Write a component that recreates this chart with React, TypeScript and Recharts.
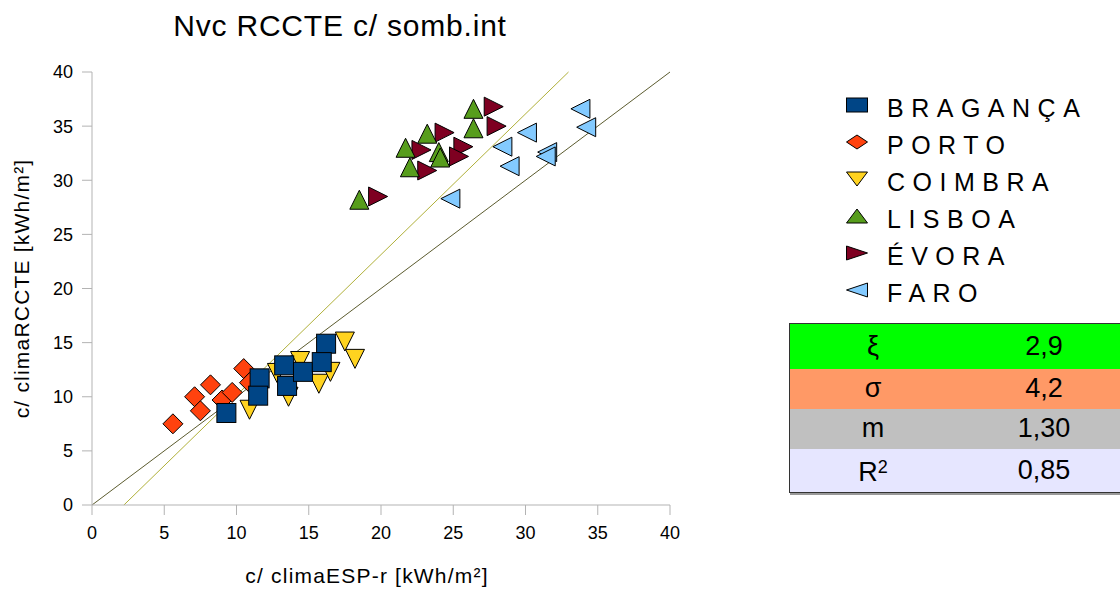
import React from "react";
import {
  ScatterChart,
  Scatter,
  XAxis,
  YAxis,
  ReferenceLine,
  Label,
} from "recharts";

// points (x = ESP-r, y = RCCTE, kWh/m²)
const braganca = [
  { x: 9.3, y: 8.5 }, { x: 11.6, y: 11.7 }, { x: 11.5, y: 10.1 }, { x: 13.3, y: 12.9 },
  { x: 13.5, y: 11.0 }, { x: 14.6, y: 12.3 }, { x: 16.2, y: 14.9 }, { x: 15.9, y: 13.2 },
];
const porto = [
  { x: 5.6, y: 7.5 }, { x: 7.1, y: 10.0 }, { x: 7.5, y: 8.7 }, { x: 8.2, y: 11.1 },
  { x: 9.0, y: 9.7 }, { x: 9.7, y: 10.4 }, { x: 10.5, y: 12.6 }, { x: 10.9, y: 11.3 },
];
const coimbra = [
  { x: 10.9, y: 8.8 }, { x: 13.6, y: 10.0 }, { x: 12.8, y: 12.2 }, { x: 14.4, y: 13.3 },
  { x: 15.7, y: 11.2 }, { x: 16.5, y: 12.3 }, { x: 17.5, y: 15.1 }, { x: 18.2, y: 13.5 },
];
const lisboa = [
  { x: 18.5, y: 28.2 }, { x: 21.7, y: 33.0 }, { x: 22.0, y: 31.2 }, { x: 23.2, y: 34.3 },
  { x: 24.0, y: 32.6 }, { x: 24.1, y: 32.1 }, { x: 26.4, y: 34.8 }, { x: 26.4, y: 36.6 },
];
const evora = [
  { x: 19.8, y: 28.5 }, { x: 22.8, y: 32.8 }, { x: 23.2, y: 30.9 }, { x: 24.4, y: 34.4 },
  { x: 25.7, y: 33.1 }, { x: 25.4, y: 32.2 }, { x: 27.8, y: 36.8 }, { x: 28.0, y: 35.0 },
];
const faro = [
  { x: 24.8, y: 28.3 }, { x: 28.4, y: 33.1 }, { x: 28.9, y: 31.3 }, { x: 30.1, y: 34.4 },
  { x: 31.5, y: 32.6 }, { x: 31.4, y: 32.2 }, { x: 33.8, y: 36.6 }, { x: 34.2, y: 34.9 },
];

const axisTicks = [0, 5, 10, 15, 20, 25, 30, 35, 40];

// regression line y = m*x + b
const fitSlope = 1.3;
const fitIntercept = -2.87;

const statLabels = ["ξ", "σ", "m", "R2"];
const statValues = ["2,9", "4,2", "1,30", "0,85"];

const series = [
  { name: "BRAGANÇA", data: braganca, kind: "square", fill: "#004586" },
  { name: "PORTO", data: porto, kind: "diamond", fill: "#ff420e" },
  { name: "COIMBRA", data: coimbra, kind: "down", fill: "#ffd320" },
  { name: "LISBOA", data: lisboa, kind: "up", fill: "#579d1c" },
  { name: "ÉVORA", data: evora, kind: "right", fill: "#7e0021" },
  { name: "FARO", data: faro, kind: "left", fill: "#83caff" },
];

const font = "'Liberation Sans', Arial, sans-serif";

function symbol(kind: string, cx: number, cy: number, w: number, h: number, fill: string) {
  const a = w / 2;
  const b = h / 2;
  let pts = "";
  if (kind === "square") {
    return <rect x={cx - a} y={cy - b} width={w} height={h} fill={fill} stroke="#000" strokeWidth={1} />;
  }
  if (kind === "diamond") pts = `${cx},${cy - b} ${cx + a},${cy} ${cx},${cy + b} ${cx - a},${cy}`;
  if (kind === "up") pts = `${cx},${cy - b} ${cx + a},${cy + b} ${cx - a},${cy + b}`;
  if (kind === "down") pts = `${cx - a},${cy - b} ${cx + a},${cy - b} ${cx},${cy + b}`;
  if (kind === "right") pts = `${cx - a},${cy - b} ${cx + a},${cy} ${cx - a},${cy + b}`;
  if (kind === "left") pts = `${cx + a},${cy - b} ${cx - a},${cy} ${cx + a},${cy + b}`;
  return <polygon points={pts} fill={fill} stroke="#000" strokeWidth={1} strokeLinejoin="miter" />;
}

const makeShape = (kind: string, fill: string) => (props: any) => {
  const { cx, cy } = props;
  if (cx == null || cy == null) return <g />;
  const s = kind === "diamond" ? 20 : 19;
  return symbol(kind, cx, cy, s, s, fill);
};

const tickStyle = { fontSize: 18, fill: "#000", fontFamily: font };
const axisLabelStyle = { fontSize: 21, fill: "#000", fontFamily: font, letterSpacing: 1.2 };

export default function App() {
  const fitStart = { x: -fitIntercept / fitSlope, y: 0 };
  const fitEnd = { x: (40 - fitIntercept) / fitSlope, y: 40 };
  const rowColors = ["#00ff00", "#ff9966", "#c0c0c0", "#e6e6ff"];
  const rowHeights = [45, 40, 40, 43];

  return (
    <div
      style={{
        position: "absolute",
        left: 0,
        top: 0,
        width: 1120,
        height: 592,
        overflow: "hidden",
        background: "#fff",
        fontFamily: font,
      }}
    >
      <div
        style={{
          position: "absolute",
          left: 90,
          width: 500,
          top: 11,
          textAlign: "center",
          fontSize: 30,
          lineHeight: "30px",
          letterSpacing: 0.8,
          color: "#000",
        }}
      >
        Nvc RCCTE c/ somb.int
      </div>

      <ScatterChart
        width={700}
        height={592}
        margin={{ top: 72, right: 30, bottom: 47, left: 0 }}
      >
        <XAxis
          type="number"
          dataKey="x"
          domain={[0, 40]}
          ticks={axisTicks}
          interval={0}
          allowDataOverflow
          height={40}
          stroke="#b3b3b3"
          tickSize={10}
          tickMargin={11}
          tick={tickStyle}
        >
          <Label
            value="c/ climaESP-r [kWh/m²]"
            position="bottom"
            offset={23}
            dx={-14}
            style={axisLabelStyle}
          />
        </XAxis>
        <YAxis
          type="number"
          dataKey="y"
          domain={[0, 40]}
          ticks={axisTicks}
          interval={0}
          allowDataOverflow
          width={92}
          stroke="#b3b3b3"
          tickSize={10}
          tickMargin={9}
          tick={tickStyle}
        >
          <Label
            value="c/ climaRCCTE [kWh/m²]"
            position="insideLeft"
            angle={-90}
            offset={22}
            style={{ ...axisLabelStyle, textAnchor: "middle" }}
          />
        </YAxis>
        {[...series].reverse().map((s) => (
          <Scatter
            key={s.name}
            name={s.name}
            data={s.data}
            fill={s.fill}
            shape={makeShape(s.kind, s.fill)}
            isAnimationActive={false}
          />
        ))}
        <ReferenceLine
          segment={[{ x: 0, y: 0 }, { x: 40, y: 40 }]}
          stroke="#5b5b2e"
          strokeWidth={1}
        />
        <ReferenceLine
          segment={[fitStart, fitEnd]}
          stroke="#b0b03a"
          strokeWidth={1}
        />
      </ScatterChart>

      {/* legend */}
      {series.map((s, i) => {
        const cy = 108.5 + i * 37;
        return (
          <div key={s.name}>
            <svg
              style={{ position: "absolute", left: 844, top: cy - 16, overflow: "visible" }}
              width={26}
              height={24}
            >
              {symbol(s.kind, 13, 12, 21, 14, s.fill)}
            </svg>
            <div
              style={{
                position: "absolute",
                left: 887,
                top: cy - 12.5,
                fontSize: 25,
                lineHeight: "25px",
                letterSpacing: 7.5,
                color: "#000",
                whiteSpace: "nowrap",
              }}
            >
              {s.name}
            </div>
          </div>
        );
      })}

      {/* stats table */}
      <div
        style={{
          position: "absolute",
          left: 789,
          top: 323,
          width: 345,
          border: "1px solid #333",
          boxShadow: "1px 2px 0 #999",
        }}
      >
        {statLabels.map((lab, i) => (
          <div
            key={lab}
            style={{
              position: "relative",
              height: rowHeights[i],
              background: rowColors[i],
              fontSize: 27,
              color: "#000",
            }}
          >
            <span
              style={{
                position: "absolute",
                left: 33,
                width: 100,
                textAlign: "center",
                top: "50%",
                transform: "translateY(-52%)",
                lineHeight: "27px",
              }}
            >
              {lab === "R2" ? (
                <>
                  R<sup style={{ fontSize: 18, verticalAlign: "8px" }}>2</sup>
                </>
              ) : (
                lab
              )}
            </span>
            <span
              style={{
                position: "absolute",
                left: 204,
                width: 100,
                textAlign: "center",
                top: "50%",
                transform: "translateY(-52%)",
                lineHeight: "27px",
              }}
            >
              {statValues[i]}
            </span>
          </div>
        ))}
      </div>
    </div>
  );
}
